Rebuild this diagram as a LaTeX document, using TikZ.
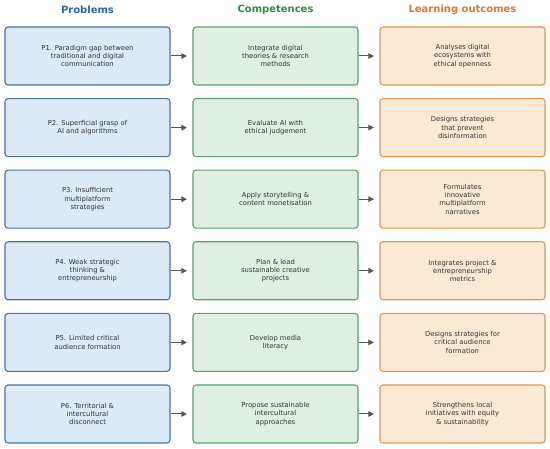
\documentclass[tikz,border=0pt]{standalone}
\usepackage{fontspec}
\setmainfont{DejaVu Sans}
\usetikzlibrary{arrows.meta}
\definecolor{pfill}{HTML}{DCE9F6}
\definecolor{pdraw}{HTML}{4A74A0}
\definecolor{cfill}{HTML}{DFF0E2}
\definecolor{cdraw}{HTML}{5AA06A}
\definecolor{ofill}{HTML}{FCE9D4}
\definecolor{odraw}{HTML}{E0965A}
\definecolor{phead}{HTML}{2E6496}
\definecolor{chead}{HTML}{2E8B46}
\definecolor{ohead}{HTML}{D9782D}
\definecolor{arr}{HTML}{555555}
\begin{document}
\begin{tikzpicture}[x=1pt,y=-1pt,
  box/.style={minimum width=165pt,minimum height=58pt,rounded corners=3pt,line width=1.1pt,
    align=center,font=\fontsize{6.8}{8.3}\selectfont,text=black!80,inner sep=2pt},
  pbox/.style={box,fill=pfill,draw=pdraw},
  cbox/.style={box,fill=cfill,draw=cdraw},
  obox/.style={box,fill=ofill,draw=odraw},
  head/.style={font=\fontsize{10}{12}\selectfont\bfseries},
  conn/.style={-{Triangle[length=5.5pt,width=5.5pt]},line width=1pt,draw=arr,shorten >=5.5pt}]
\useasboundingbox (0,0) rectangle (550,449);
\node[head,text=phead] (hp) at (87.5,10) {Problems};
\node[head,text=chead] (hc) at (275.5,10) {Competences};
\node[head,text=ohead] (ho) at (462.5,10) {Learning outcomes};
\foreach \i/\p/\c/\o in {
 0/{P1. Paradigm gap between\\traditional and digital\\communication}/{Integrate digital\\theories \& research\\methods}/{Analyses digital\\ecosystems with\\ethical openness},
 1/{P2. Superficial grasp of\\AI and algorithms}/{Evaluate AI with\\ethical judgement}/{Designs strategies\\that prevent\\disinformation},
 2/{P3. Insufficient\\multiplatform\\strategies}/{Apply storytelling \&\\content monetisation}/{Formulates\\innovative\\multiplatform\\narratives},
 3/{P4. Weak strategic\\thinking \&\\entrepreneurship}/{Plan \& lead\\sustainable creative\\projects}/{Integrates project \&\\entrepreneurship\\metrics},
 4/{P5. Limited critical\\audience formation}/{Develop media\\literacy}/{Designs strategies for\\critical audience\\formation},
 5/{P6. Territorial \&\\intercultural\\disconnect}/{Propose sustainable\\intercultural\\approaches}/{Strengthens local\\initiatives with equity\\\& sustainability}} {
  \node[pbox] (p\i) at (87.5,{56+71.6*\i}) {\p};
  \node[cbox] (c\i) at (275.5,{56+71.6*\i}) {\c};
  \node[obox] (o\i) at (462.5,{56+71.6*\i}) {\o};
  \draw[conn] (p\i) -- (c\i);
  \draw[conn] (c\i) -- (o\i);
}
\end{tikzpicture}
\end{document}
